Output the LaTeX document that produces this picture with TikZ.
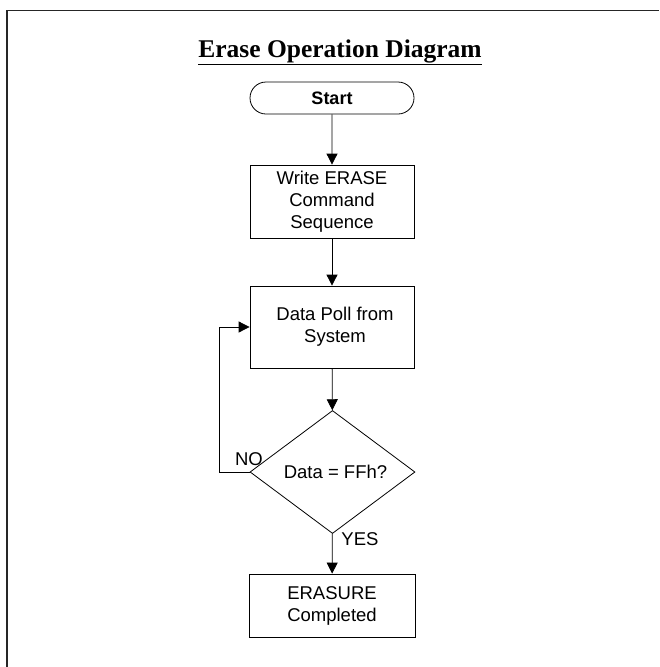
\documentclass[tikz,border=0pt]{standalone}
\usepackage{fontspec}
\setmainfont{Liberation Sans}
\newfontfamily\titlefont{Liberation Serif}
\usetikzlibrary{shapes.geometric,shapes.misc,arrows.meta}
\tikzset{
  x=1pt,y=-1pt,
  every node/.style={font=\fontsize{18.5}{22}\selectfont, align=center, inner sep=0pt},
  procbox/.style={draw, line width=0.8pt, minimum width=164pt},
  termbox/.style={draw, line width=0.8pt, rounded rectangle, minimum width=164pt, minimum height=32pt},
  decbox/.style={draw, line width=0.8pt, diamond, aspect=1.34, minimum width=165pt, minimum height=123pt},
  flow/.style={line width=0.8pt, -{Triangle[length=11pt,width=11pt]}},
  plainline/.style={line width=0.8pt}
}
\begin{document}
\begin{tikzpicture}
\useasboundingbox (0,0) rectangle (659,667);
\fill[white] (0,0) rectangle (659,667);
\draw[line width=1.6pt, black!85] (7,667) -- (7,10.5) -- (659,10.5);
\node[anchor=base, font=\titlefont\bfseries\fontsize{25.5}{28}\selectfont] (title) at (340,57) {\underline{Erase Operation Diagram}};
\node[termbox, font=\bfseries\fontsize{18}{22}\selectfont] (start) at (332,98) {Start};
\node[procbox, minimum height=73pt] (write) at (332,201.5) {Write ERASE\\Command\\Sequence};
\node[procbox, minimum height=82pt] (poll) at (332,327) {\hspace*{6pt}Data Poll from\\\hspace*{6pt}System};
\node[decbox] (dec) at (332.5,472) {\hspace*{6pt}Data = FFh?};
\node[procbox, minimum height=63pt, minimum width=166pt] (done) at (332,605.5) {ERASURE\\Completed};
\coordinate (loopc) at (219,472);
\draw[flow] (start) -- (write);
\draw[flow] (write) -- (poll);
\draw[flow] (poll) -- (dec);
\draw[flow] (dec) -- (done);
\draw[plainline] (dec.west) -- (loopc);
\draw[flow] (loopc) |- (poll.west);
\node (nolab) at (249,459) {NO};
\node (yeslab) at (360,539) {YES};
\end{tikzpicture}
\end{document}
